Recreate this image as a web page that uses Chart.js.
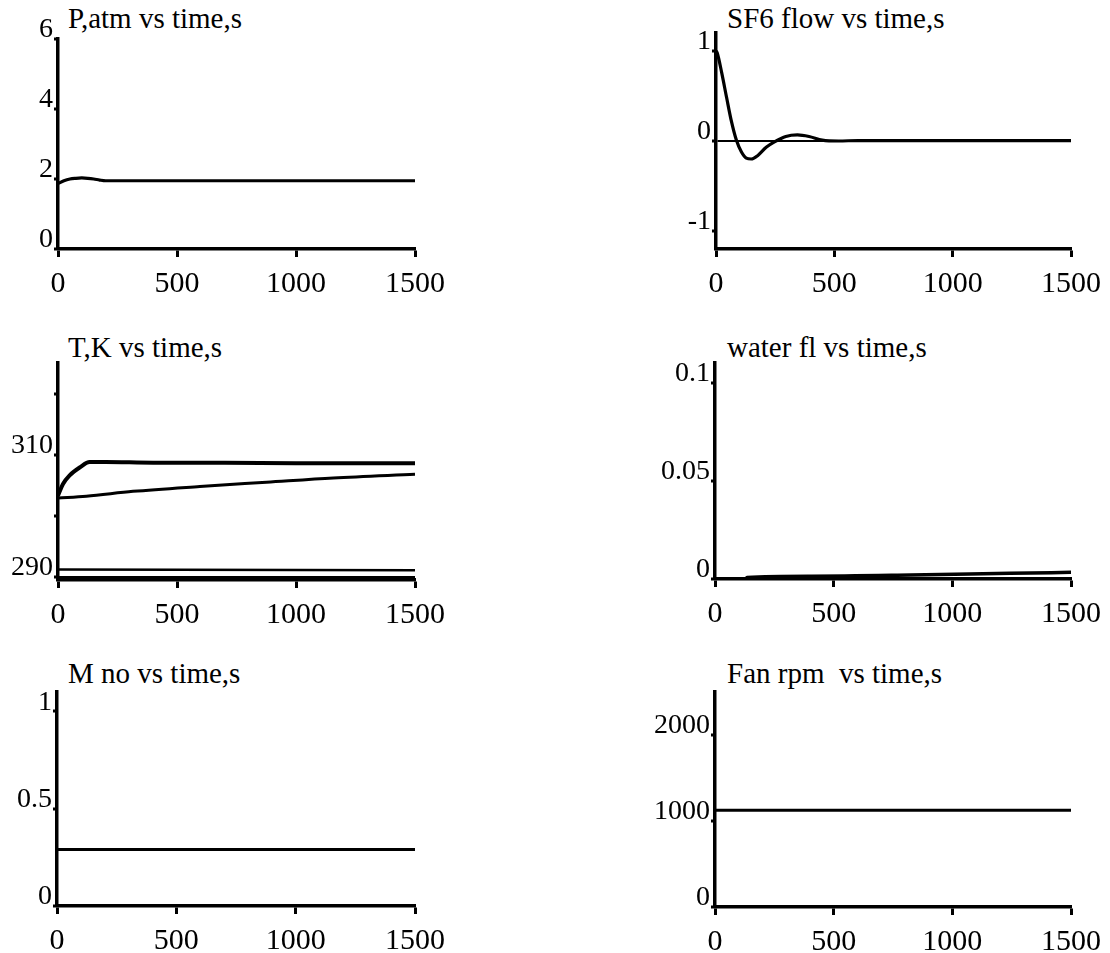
<!DOCTYPE html>
<html lang="en">
<head>
<meta charset="utf-8" />
<title>Simulation traces vs time</title>
<script src="https://cdn.jsdelivr.net/npm/chart.js@4.4.1/dist/chart.umd.min.js"></script>
<style>
  body { margin: 0; background: #fff; width: 1110px; height: 953px; position: relative; overflow: hidden; }
  .cell { position: absolute; }
  .ttl { position: absolute; font: 29px "Liberation Serif", "Times New Roman", serif; line-height: 29px; white-space: pre; color: #000; }
</style>
</head>
<body>

<div class="ttl" style="left:68px;top:4px">P,atm vs time,s</div>
<div class="ttl" style="left:727px;top:4px">SF6 flow vs time,s</div>
<div class="ttl" style="left:68px;top:333px">T,K vs time,s</div>
<div class="ttl" style="left:727px;top:333px">water fl vs time,s</div>
<div class="ttl" style="left:68px;top:659px">M no vs time,s</div>
<div class="ttl" style="left:727px;top:659px">Fan rpm  vs time,s</div>

<div class="cell" style="left:0px;top:0px"><canvas id="pChart" width="540" height="298"></canvas></div>
<div class="cell" style="left:560px;top:0px"><canvas id="sfChart" width="550" height="298"></canvas></div>
<div class="cell" style="left:0px;top:298px"><canvas id="tChart" width="540" height="330"></canvas></div>
<div class="cell" style="left:560px;top:298px"><canvas id="wChart" width="550" height="330"></canvas></div>
<div class="cell" style="left:0px;top:628px"><canvas id="mChart" width="540" height="325"></canvas></div>
<div class="cell" style="left:560px;top:628px"><canvas id="fChart" width="550" height="325"></canvas></div>

<script>
// time axis shared by all panels
var xTicks = [0, 500, 1000, 1500];
var xLabels = ['0', '500', '1000', '1500'];

// P, atm
var pTime = [0, 25, 50, 75, 100, 125, 150, 175, 200, 300, 500, 800, 1100, 1500];
var pAtm = [1.87, 1.95, 2.0, 2.02, 2.03, 2.02, 2.0, 1.97, 1.95, 1.95, 1.95, 1.95, 1.95, 1.95];
var pTicks = [0, 2, 4, 6];
var pLabels = ['0', '2', '4', '6'];

// SF6 flow
var sfTime = [0, 5, 24, 45, 65, 86, 107, 128, 149, 177, 212, 247, 295, 344, 393, 449, 518, 600, 800, 1000, 1200, 1500];
var sfFlow = [1.0, 0.98, 0.76, 0.48, 0.22, 0.01, -0.12, -0.19, -0.2, -0.16, -0.07, -0.01, 0.05, 0.067, 0.05, 0.01, 0.0, 0.005, 0.005, 0.005, 0.005, 0.005];
var sfTicks = [-1, 0, 1];
var sfLabels = ['-1', '0', '1'];

// T, K  (four traces)
var tGasTime = [0, 21, 49, 91, 133, 200, 400, 700, 1000, 1300, 1500];
var tGas = [303.3, 305.2, 306.6, 307.9, 308.8, 308.8, 308.7, 308.7, 308.6, 308.6, 308.6];
var tWallTime = [0, 119, 315, 596, 876, 1157, 1500];
var tWall = [302.9, 303.2, 304.0, 304.8, 305.5, 306.2, 306.8];
var tWaterTime = [0, 1500];
var tWater = [291.2, 291.1];
var tAmbTime = [0, 1500];
var tAmb = [290, 290];
var tTicks = [290, 300, 310, 320];
var tLabels = ['290', '', '310', ''];

// water flow
var wTime = [0, 128, 135, 407, 825, 1243, 1500];
var wFlow = [0, 0, 0.0008, 0.0014, 0.002, 0.0029, 0.0034];
var wTicks = [0, 0.05, 0.1];
var wLabels = ['0', '0.05', '0.1'];

// Mach number
var mTime = [0, 1500];
var mNo = [0.29, 0.29];
var mTicks = [0, 0.5, 1];
var mLabels = ['0', '0.5', '1'];

// fan rpm
var fTime = [0, 1500];
var fRpm = [1125, 1125];
var fTicks = [0, 1000, 2000];
var fLabels = ['0', '1000', '2000'];

var SERIF = '"Liberation Serif", "Times New Roman", serif';
var XH = 50;

function panel(id, cell, area, yMin, yMax, yTicks, yLabels, sets, zeroLine) {
  var YW = cell.yw;
  new Chart(document.getElementById(id), {
    type: 'line',
    data: {
      datasets: sets.map(function (s) {
        return {
          data: s.t.map(function (t, i) { return { x: t, y: s.v[i] }; }),
          borderColor: '#000',
          borderWidth: s.w,
          pointRadius: 0,
          cubicInterpolationMode: 'monotone',
          fill: false
        };
      })
    },
    options: {
      responsive: false,
      animation: false,
      layout: {
        padding: {
          left: area.l - cell.x - YW,
          right: cell.x + cell.w - area.r,
          top: area.t - cell.y,
          bottom: cell.y + cell.h - area.b - XH
        }
      },
      plugins: { legend: { display: false }, tooltip: { enabled: false } },
      scales: {
        x: {
          type: 'linear', min: 0, max: 1500,
          afterFit: function (s) { s.height = XH; },
          afterBuildTicks: function (s) { s.ticks = xTicks.map(function (v) { return { value: v }; }); },
          border: { display: true, color: '#000', width: 3.5 },
          grid: { drawOnChartArea: false, tickLength: 8, tickWidth: 3, tickColor: '#000' },
          ticks: { color: '#000', font: { family: SERIF, size: 30 }, padding: 9, maxRotation: 0, autoSkip: false,
                   callback: function (v, i) { return xLabels[i]; } }
        },
        y: {
          type: 'linear', min: yMin, max: yMax,
          afterFit: function (s) { s.width = YW; },
          afterBuildTicks: function (s) { s.ticks = yTicks.map(function (v) { return { value: v }; }); },
          border: { display: true, color: '#000', width: 3.5 },
          grid: {
            drawOnChartArea: !!zeroLine,
            color: function (c) { return c.tick && c.tick.value === 0 ? '#000' : 'rgba(0,0,0,0)'; },
            lineWidth: 2,
            tickLength: 4, tickWidth: 3, tickColor: '#000'
          },
          ticks: { color: '#000', font: { family: SERIF, size: 28 }, padding: 1, labelOffset: -9, autoSkip: false,
                   callback: function (v, i) { return yLabels[i]; } }
        }
      }
    }
  });
}

var L = { x: 0, w: 540, yw: 50 }, R = { x: 560, w: 550, yw: 62 };
function cell(col, y, h) { return { x: col.x, w: col.w, yw: col.yw, y: y, h: h }; }

panel('pChart', cell(L, 0, 298), { l: 58, t: 39, r: 415, b: 249 }, 0, 6, pTicks, pLabels,
  [{ t: pTime, v: pAtm, w: 3.2 }]);
panel('sfChart', cell(R, 0, 298), { l: 716, t: 33, r: 1075, b: 249 }, -1.2, 1.2, sfTicks, sfLabels,
  [{ t: sfTime, v: sfFlow, w: 3.2 }], true);
panel('tChart', cell(L, 298, 330), { l: 58, t: 363, r: 415, b: 580 }, 289.5, 325, tTicks, tLabels,
  [{ t: tGasTime, v: tGas, w: 4 }, { t: tWallTime, v: tWall, w: 3 }, { t: tWaterTime, v: tWater, w: 2.5 },
   { t: tAmbTime, v: tAmb, w: 2 }]);
panel('wChart', cell(R, 298, 330), { l: 715, t: 363, r: 1075, b: 579 }, 0, 0.11, wTicks, wLabels,
  [{ t: wTime, v: wFlow, w: 3.5 }]);
panel('mChart', cell(L, 628, 325), { l: 57, t: 692, r: 415, b: 906 }, 0, 1.1, mTicks, mLabels,
  [{ t: mTime, v: mNo, w: 3 }]);
panel('fChart', cell(R, 628, 325), { l: 715, t: 692, r: 1073, b: 907 }, 0, 2500, fTicks, fLabels,
  [{ t: fTime, v: fRpm, w: 3 }]);
</script>
</body>
</html>
